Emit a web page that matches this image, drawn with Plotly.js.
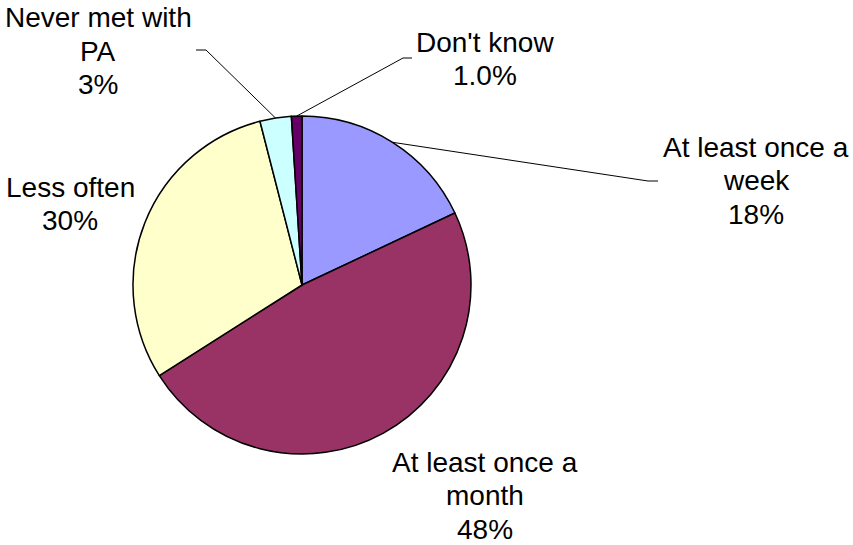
<!DOCTYPE html>
<html>
<head>
<meta charset="utf-8">
<script src="https://cdn.plot.ly/plotly-3.0.1.min.js"></script>
<style>
  html, body { margin: 0; padding: 0; background: #fff; }
  #chart { width: 853px; height: 545px; }
</style>
</head>
<body>
<div id="chart"></div>
<script>
// How often respondents met with their PA (share of respondents)
const categories = [
  "At least once a week",
  "At least once a month",
  "Less often",
  "Never met with PA",
  "Don't know"
];
const labelLines = [
  ["At least once a", "week"],
  ["At least once a", "month"],
  ["Less often"],
  ["Never met with", "PA"],
  ["Don't know"]
];
const shares = [18, 48, 30, 3, 1.0];
const shareText = ["18%", "48%", "30%", "3%", "1.0%"];
const colors = ["#9999FF", "#993366", "#FFFFCC", "#CCFFFF", "#660066"];

// Page geometry (pixels)
const W = 853, H = 545;
const CX = 302, CY = 285, R = 169;
const FONT_SIZE = 28;
const LINE_STEP = 33.5;

// Label placement: centre of the text block, and optional leader-line elbow
const labelPos = [
  { x: 756, y: 180.5, elbow: [648, 181], end: [658, 181] },
  { x: 485, y: 495.5 },
  { x: 70,  y: 204 },
  { x: 98,  y: 51,  elbow: [206, 50], end: [196, 50] },
  { x: 485, y: 59,  elbow: [403, 58], end: [412, 58] }
];

const px2x = p => p / W;
const px2y = p => 1 - p / H;

// Mid-angle rim point of each slice (clockwise from 12 o'clock)
const total = shares.reduce((a, b) => a + b, 0);
let cum = 0;
const rimPts = shares.map(v => {
  const mid = (cum + v / 2) / total * 2 * Math.PI;
  cum += v;
  return [CX + R * Math.sin(mid), CY - R * Math.cos(mid)];
});

const annotations = [];
const shapes = [];
categories.forEach((c, i) => {
  const lp = labelPos[i];
  const lines = labelLines[i].concat([shareText[i]]);
  const top = lp.y - (lines.length - 1) * LINE_STEP / 2;
  lines.forEach((t, k) => {
    annotations.push({
      xref: "paper", yref: "paper",
      x: px2x(lp.x), y: px2y(top + k * LINE_STEP),
      xanchor: "center", yanchor: "middle",
      text: t,
      showarrow: false,
      borderpad: 0,
      font: { family: "Arial, 'Liberation Sans', sans-serif", size: FONT_SIZE, color: "#000" }
    });
  });
  if (lp.elbow) {
    const p0 = rimPts[i];
    const path = "M " + px2x(p0[0]) + " " + px2y(p0[1]) +
                 " L " + px2x(lp.elbow[0]) + " " + px2y(lp.elbow[1]) +
                 " L " + px2x(lp.end[0]) + " " + px2y(lp.end[1]);
    shapes.push({
      type: "path", xref: "paper", yref: "paper", path: path,
      line: { color: "#000", width: 1 }
    });
  }
});

const trace = {
  type: "pie",
  labels: categories,
  values: shares,
  sort: false,
  direction: "clockwise",
  rotation: 0,
  textinfo: "none",
  hoverinfo: "label+percent",
  marker: { colors: colors, line: { color: "#000", width: 1.5 } },
  domain: {
    x: [px2x(CX - R), px2x(CX + R)],
    y: [px2y(CY + R), px2y(CY - R)]
  },
  showlegend: false
};

const layout = {
  width: W, height: H,
  margin: { l: 0, r: 0, t: 0, b: 0 },
  paper_bgcolor: "#fff",
  plot_bgcolor: "#fff",
  showlegend: false,
  annotations: annotations,
  shapes: shapes
};

Plotly.newPlot("chart", [trace], layout, { displayModeBar: false, staticPlot: true });
</script>
</body>
</html>
